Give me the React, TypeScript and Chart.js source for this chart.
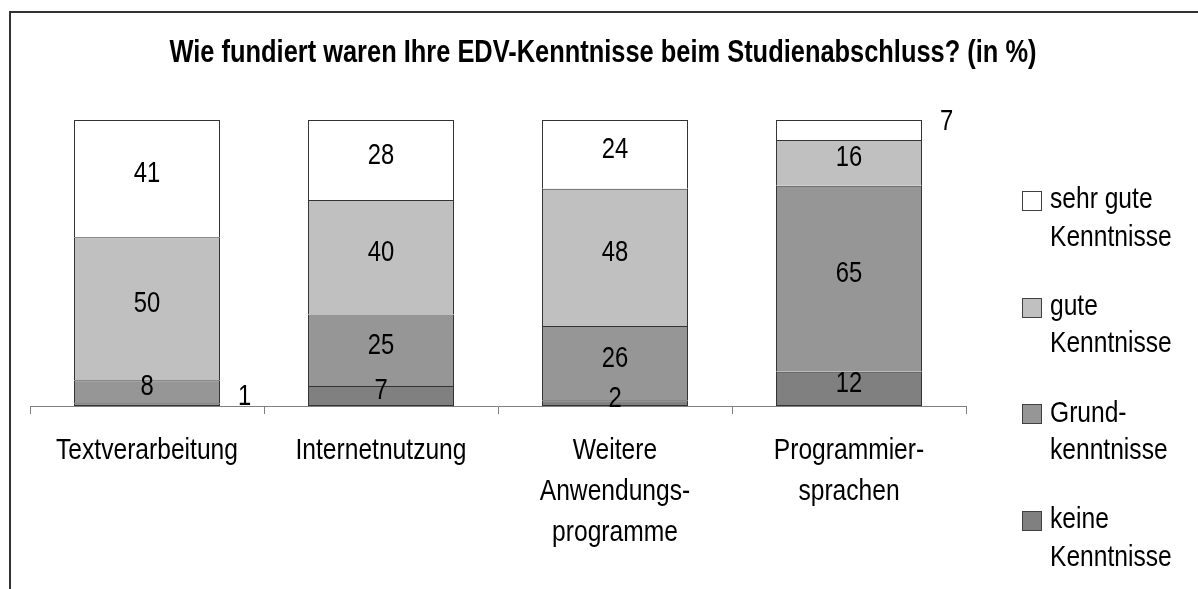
import React, { useEffect, useRef } from "react";
import { Chart, registerables, CategoryScale } from "chart.js";

Chart.register(...registerables);

// ---------- data ----------
const chartTitle = "Wie fundiert waren Ihre EDV-Kenntnisse beim Studienabschluss? (in %)";
const categories: string[][] = [
  ["Textverarbeitung"],
  ["Internetnutzung"],
  ["Weitere", "Anwendungs-", "programme"],
  ["Programmier-", "sprachen"],
];
const seriesNames: string[][] = [
  ["keine", "Kenntnisse"],
  ["Grund-", "kenntnisse"],
  ["gute", "Kenntnisse"],
  ["sehr gute", "Kenntnisse"],
];
const keineKenntnisse = [1, 7, 2, 12];
const grundkenntnisse = [8, 25, 26, 65];
const guteKenntnisse = [50, 40, 48, 16];
const sehrGuteKenntnisse = [41, 28, 24, 7];
const seriesValues = [keineKenntnisse, grundkenntnisse, guteKenntnisse, sehrGuteKenntnisse];
const seriesColors = ["#808080", "#969696", "#C0C0C0", "#FFFFFF"];
// labels that were placed beside the bar: [seriesIndex, categoryIndex]
const outsideLabels: number[][] = [
  [0, 0],
  [3, 3],
];

// horizontal condensing of all text (narrow face look)
const SX = 0.82;
const FAMILY = "'Liberation Sans', Arial, sans-serif";

class CondensedCategoryScale extends (CategoryScale as any) {
  static id = "condensedCategory";
  drawLabels(chartArea: any) {
    const self: any = this;
    if (!self.options.ticks.display) return;
    const ctx = self.ctx;
    const items = self.getLabelItems(chartArea);
    for (const item of items) {
      const o = item.options;
      const [tx, ty] = o.translation;
      ctx.save();
      ctx.translate(tx, ty);
      if (o.rotation) ctx.rotate(o.rotation);
      ctx.scale(SX, 1);
      ctx.font = item.font.string;
      ctx.fillStyle = o.color;
      ctx.textAlign = o.textAlign;
      ctx.textBaseline = o.textBaseline;
      const lines = Array.isArray(item.label) ? item.label : [item.label];
      let y = item.textOffset;
      for (const line of lines) {
        ctx.fillText(line, 0, y);
        y += item.font.lineHeight;
      }
      ctx.restore();
    }
  }
}
Chart.register(CondensedCategoryScale as any);

function drawCondensed(ctx: CanvasRenderingContext2D, text: string, x: number, y: number, align: CanvasTextAlign) {
  ctx.save();
  ctx.translate(x, y);
  ctx.scale(SX, 1);
  ctx.textAlign = align;
  ctx.fillText(text, 0, 0);
  ctx.restore();
}

export default function App() {
  const canvasRef = useRef<HTMLCanvasElement | null>(null);

  useEffect(() => {
    const titlePlugin = {
      id: "condensedTitle",
      afterDraw(chart: any) {
        const ctx = chart.ctx;
        ctx.save();
        ctx.font = `bold 31px ${FAMILY}`;
        ctx.fillStyle = "#000";
        ctx.textBaseline = "middle";
        drawCondensed(ctx, chartTitle, 603, 53, "center");
        ctx.restore();
      },
    };

    const valueLabels = {
      id: "valueLabels",
      afterDatasetsDraw(chart: any) {
        const ctx = chart.ctx;
        ctx.save();
        ctx.font = `29px ${FAMILY}`;
        ctx.fillStyle = "#000";
        ctx.textBaseline = "middle";
        chart.data.datasets.forEach((ds: any, di: number) => {
          const meta = chart.getDatasetMeta(di);
          meta.data.forEach((el: any, ci: number) => {
            const p = el.getProps(["x", "y", "base", "width"], true);
            const v = ds.data[ci];
            const top = Math.min(p.y, p.base);
            const bottom = Math.max(p.y, p.base);
            const cy = (top + bottom) / 2;
            const outside = outsideLabels.some((o) => o[0] === di && o[1] === ci);
            if (outside) {
              drawCondensed(ctx, String(v), p.x + p.width / 2 + 18, cy - 8, "left");
            } else {
              drawCondensed(ctx, String(v), p.x, cy - 4.5, "center");
            }
          });
        });
        ctx.restore();
      },
    };

    const sideLegend = {
      id: "sideLegend",
      afterDraw(chart: any) {
        const ctx = chart.ctx;
        ctx.save();
        ctx.font = `30px ${FAMILY}`;
        ctx.textBaseline = "middle";
        const n = chart.data.datasets.length;
        for (let r = 0; r < n; r++) {
          const di = n - 1 - r;
          const ds = chart.data.datasets[di];
          const y0 = 200 + r * 106.7;
          ctx.fillStyle = ds.backgroundColor;
          ctx.fillRect(1022.5, Math.round(y0 - 9) + 0.5, 19, 19);
          ctx.strokeStyle = "#404040";
          ctx.lineWidth = 1;
          ctx.strokeRect(1022.5, Math.round(y0 - 9) + 0.5, 19, 19);
          ctx.fillStyle = "#000";
          const lines: string[] = ds.label.split("\n");
          lines.forEach((t, li) => drawCondensed(ctx, t, 1050, y0 + li * 37.5, "left"));
        }
        ctx.restore();
      },
    };

    const chart = new Chart(canvasRef.current as HTMLCanvasElement, {
      type: "bar",
      data: {
        labels: categories,
        datasets: seriesValues.map((vals, i) => ({
          label: seriesNames[i].join("\n"),
          data: vals,
          backgroundColor: seriesColors[i],
          borderColor: "#333333",
          borderWidth: 1,
          borderSkipped: i === 0 ? false : "start",
          categoryPercentage: 1,
          barPercentage: 0.624,
        })),
      },
      plugins: [valueLabels, sideLegend, titlePlugin],
      options: {
        animation: false,
        responsive: true,
        maintainAspectRatio: false,
        layout: { padding: { left: 30, right: 232, top: 120, bottom: 20 } },
        plugins: {
          legend: { display: false },
          tooltip: { enabled: false },
          title: { display: false },
        },
        scales: {
          x: {
            type: "condensedCategory",
            stacked: true,
            offset: true,
            grid: {
              offset: true,
              drawOnChartArea: false,
              drawTicks: true,
              tickLength: 8,
              color: "#808080",
              lineWidth: 1,
            },
            border: { display: true, color: "#808080", width: 1 },
            ticks: {
              color: "#000",
              padding: 16,
              maxRotation: 0,
              autoSkip: false,
              font: { family: FAMILY, size: 30, lineHeight: 41 / 30 },
            },
          } as any,
          y: {
            stacked: true,
            display: false,
            min: 0,
            max: 100,
          },
        },
      },
    });
    return () => chart.destroy();
  }, []);

  return (
    <div
      style={{
        position: "fixed",
        left: 0,
        top: 0,
        width: 1198,
        height: 589,
        overflow: "hidden",
        background: "#fff",
      }}
    >
      <div
        style={{
          position: "absolute",
          left: 9,
          top: 11,
          width: 1400,
          height: 900,
          border: "2px solid #333",
          boxSizing: "border-box",
        }}
      />
      <div style={{ position: "absolute", left: 0, top: 0, width: 1198, height: 589 }}>
        <canvas ref={canvasRef} />
      </div>
    </div>
  );
}
